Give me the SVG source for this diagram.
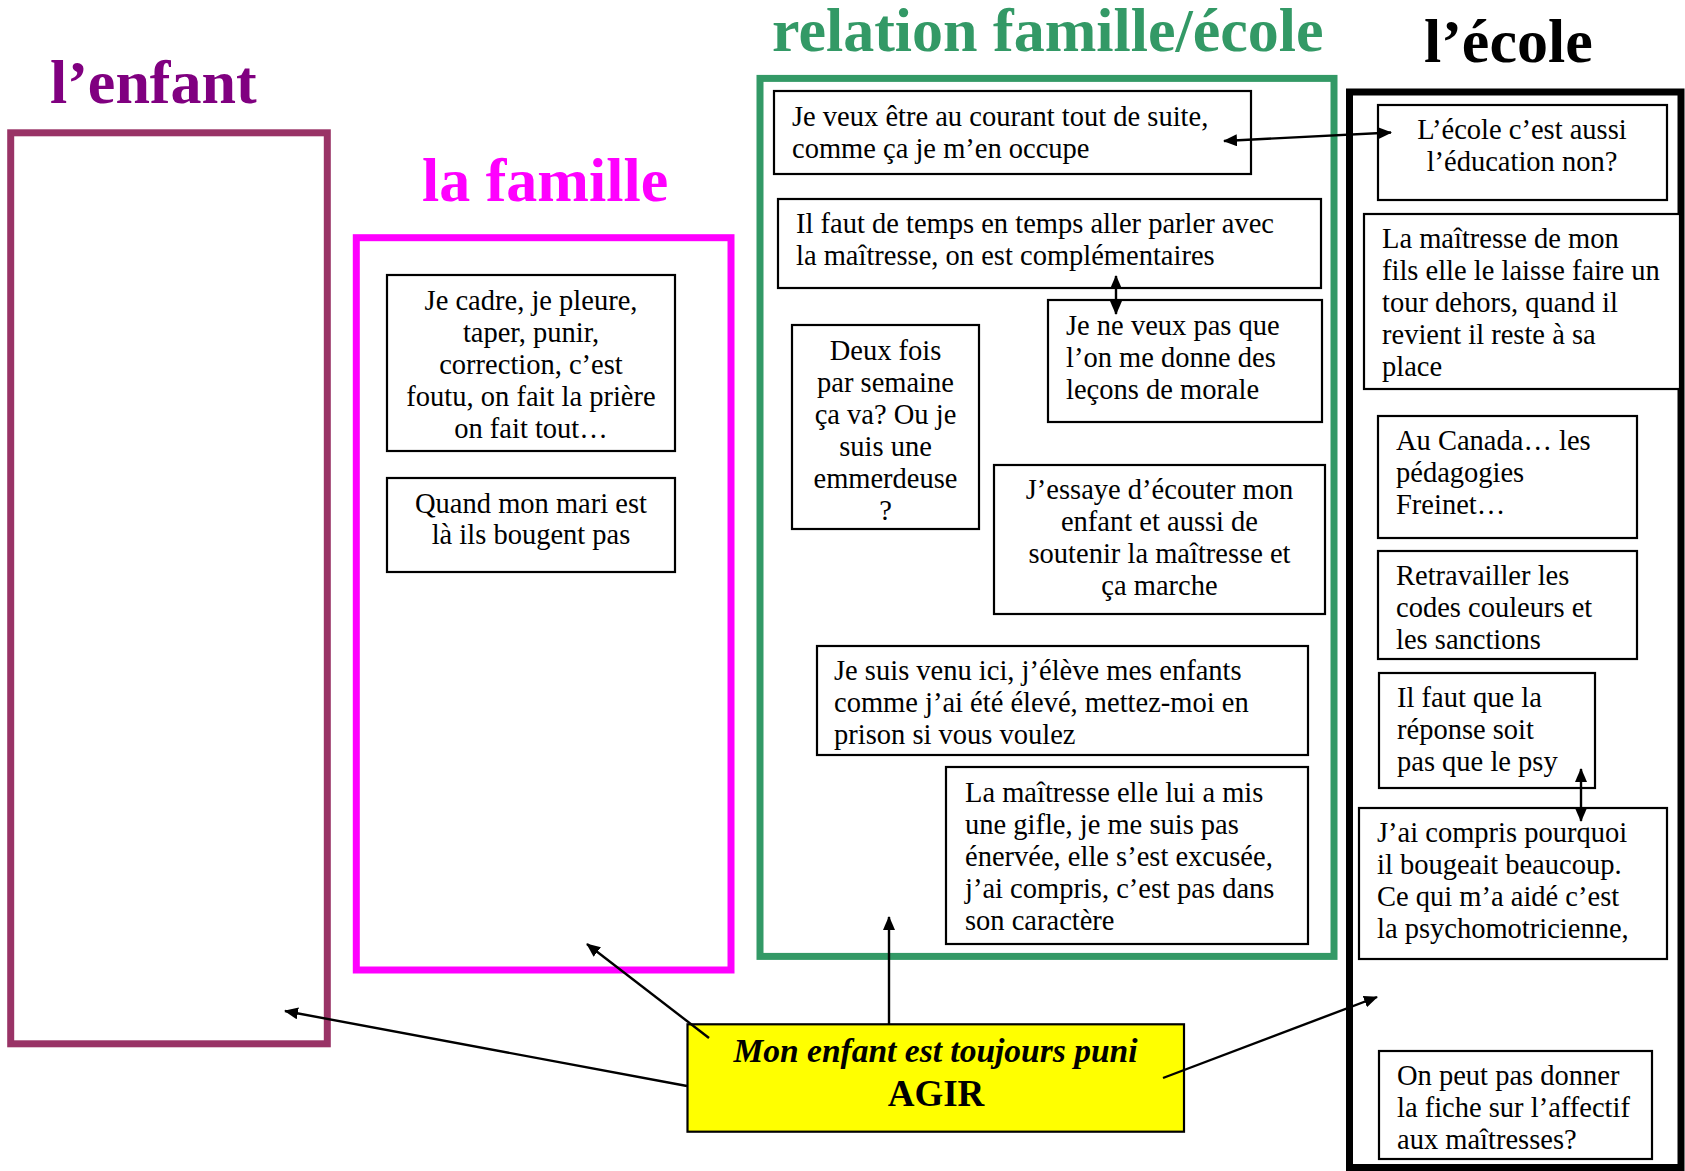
<svg xmlns="http://www.w3.org/2000/svg" width="1685" height="1171" viewBox="0 0 1685 1171">
<defs>
<style>
.title{font-family:"Liberation Serif","Times New Roman",serif;font-weight:bold;font-size:62px}
.t{font-family:"Liberation Serif","Times New Roman",serif;font-size:28.5px;fill:#000}
.c{text-anchor:middle}
.box{fill:#fff;stroke:#000;stroke-width:2.2}
.cont{fill:none;stroke-width:7}
.conn{fill:none;stroke:#000;stroke-width:2.4}
</style>
<marker id="ah" viewBox="0 0 14 12" refX="13" refY="6" markerWidth="14" markerHeight="12" markerUnits="userSpaceOnUse" orient="auto-start-reverse">
<path d="M0,0 L14,6 L0,12 Z" fill="#000"/>
</marker>
</defs>
<rect width="1685" height="1171" fill="#fff"/>

<g id="titles">
<text class="title" x="50" y="103" fill="#800080">l’enfant</text>
<text class="title" x="422" y="201" fill="#FF00FF">la famille</text>
<text class="title" x="772" y="51" fill="#339966">relation famille/école</text>
<text class="title" x="1424" y="62" fill="#000">l’école</text>
</g>

<g id="enfant">
<rect class="cont" x="10.7" y="132.8" width="316.6" height="911" stroke="#993366"/>
</g>

<g id="famille">
<rect class="cont" x="356.3" y="237.7" width="374.7" height="732.3" stroke="#FF00FF"/>
</g>

<g id="relation">
<rect class="cont" x="760" y="78.4" width="574" height="878" stroke="#339966"/>
</g>

<g id="ecole">
<rect class="cont" x="1349.5" y="92" width="331.5" height="1075.5" stroke="#000"/>
</g>

<g id="f1">
<rect class="box" x="387" y="275" width="288" height="176"/>
<text class="t c"><tspan x="531" y="310">Je cadre, je pleure,</tspan><tspan x="531" y="342">taper, punir,</tspan><tspan x="531" y="374">correction, c’est</tspan><tspan x="531" y="406">foutu, on fait la prière</tspan><tspan x="531" y="438">on fait tout…</tspan></text>
</g>

<g id="f2">
<rect class="box" x="387" y="478" width="288" height="94"/>
<text class="t c"><tspan x="531" y="513">Quand mon mari est</tspan><tspan x="531" y="544">là ils bougent pas</tspan></text>
</g>

<g id="g1">
<rect class="box" x="774" y="91" width="477" height="83"/>
<text class="t"><tspan x="792" y="126">Je veux être au courant tout de suite,</tspan><tspan x="792" y="158">comme ça je m’en occupe</tspan></text>
</g>

<g id="g2">
<rect class="box" x="778" y="199" width="543" height="89"/>
<text class="t"><tspan x="796" y="233">Il faut de temps en temps aller parler avec</tspan><tspan x="796" y="265">la maîtresse, on est complémentaires</tspan></text>
</g>

<g id="g3">
<rect class="box" x="792" y="325" width="187" height="204"/>
<text class="t c"><tspan x="885.5" y="360">Deux fois</tspan><tspan x="885.5" y="392">par semaine</tspan><tspan x="885.5" y="424">ça va? Ou je</tspan><tspan x="885.5" y="456">suis une</tspan><tspan x="885.5" y="488">emmerdeuse</tspan><tspan x="885.5" y="520">?</tspan></text>
</g>

<g id="g4">
<rect class="box" x="1048" y="300" width="274" height="122"/>
<text class="t"><tspan x="1066" y="335">Je ne veux pas que</tspan><tspan x="1066" y="367">l’on me donne des</tspan><tspan x="1066" y="399">leçons de morale</tspan></text>
</g>

<g id="g5">
<rect class="box" x="994" y="465" width="331" height="149"/>
<text class="t c"><tspan x="1159.5" y="499">J’essaye d’écouter mon</tspan><tspan x="1159.5" y="531">enfant et aussi de</tspan><tspan x="1159.5" y="563">soutenir la maîtresse et</tspan><tspan x="1159.5" y="595">ça marche</tspan></text>
</g>

<g id="g6">
<rect class="box" x="817" y="646" width="491" height="109"/>
<text class="t"><tspan x="834" y="680">Je suis venu ici, j’élève mes enfants</tspan><tspan x="834" y="712">comme j’ai été élevé, mettez-moi en</tspan><tspan x="834" y="744">prison si vous voulez</tspan></text>
</g>

<g id="g7">
<rect class="box" x="946" y="767" width="362" height="177"/>
<text class="t"><tspan x="965" y="802">La maîtresse elle lui a mis</tspan><tspan x="965" y="834">une gifle, je me suis pas</tspan><tspan x="965" y="866">énervée, elle s’est excusée,</tspan><tspan x="965" y="898">j’ai compris, c’est pas dans</tspan><tspan x="965" y="930">son caractère</tspan></text>
</g>

<g id="e1">
<rect class="box" x="1378" y="105" width="289" height="95"/>
<text class="t c"><tspan x="1522" y="139">L’école c’est aussi</tspan><tspan x="1522" y="171">l’éducation non?</tspan></text>
</g>

<g id="e2">
<rect class="box" x="1364" y="214" width="316" height="175"/>
<text class="t"><tspan x="1382" y="248">La maîtresse de mon</tspan><tspan x="1382" y="280">fils elle le laisse faire un</tspan><tspan x="1382" y="312">tour dehors, quand il</tspan><tspan x="1382" y="344">revient il reste à sa</tspan><tspan x="1382" y="376">place</tspan></text>
</g>

<g id="e3">
<rect class="box" x="1378" y="416" width="259" height="122"/>
<text class="t"><tspan x="1396" y="450">Au Canada… les</tspan><tspan x="1396" y="482">pédagogies</tspan><tspan x="1396" y="514">Freinet…</tspan></text>
</g>

<g id="e4">
<rect class="box" x="1378" y="551" width="259" height="108"/>
<text class="t"><tspan x="1396" y="585">Retravailler les</tspan><tspan x="1396" y="617">codes couleurs et</tspan><tspan x="1396" y="649">les sanctions</tspan></text>
</g>

<g id="e5">
<rect class="box" x="1379" y="673" width="216" height="115"/>
<text class="t"><tspan x="1397" y="707">Il faut que la</tspan><tspan x="1397" y="739">réponse soit</tspan><tspan x="1397" y="771">pas que le psy</tspan></text>
</g>

<g id="e6">
<rect class="box" x="1359" y="808" width="308" height="151"/>
<text class="t"><tspan x="1377" y="842">J’ai compris pourquoi</tspan><tspan x="1377" y="874">il bougeait beaucoup.</tspan><tspan x="1377" y="906">Ce qui m’a aidé c’est</tspan><tspan x="1377" y="938">la psychomotricienne,</tspan></text>
</g>

<g id="e7">
<rect class="box" x="1379" y="1051" width="273" height="108"/>
<text class="t"><tspan x="1397" y="1085">On peut pas donner</tspan><tspan x="1397" y="1117">la fiche sur l’affectif</tspan><tspan x="1397" y="1149">aux maîtresses?</tspan></text>
</g>

<g id="agir">
<rect x="687.5" y="1024.3" width="496.5" height="107.4" fill="#FFFF00" stroke="#000" stroke-width="2.2"/>
<text x="935.5" y="1062" text-anchor="middle" font-family="Liberation Serif, Times New Roman, serif" font-weight="bold" font-style="italic" font-size="33.5px">Mon enfant est toujours puni</text>
<text x="936" y="1106" text-anchor="middle" font-family="Liberation Serif, Times New Roman, serif" font-weight="bold" font-size="37px">AGIR</text>
</g>

<g id="connectors">
<path class="conn" d="M687,1086 L285,1011" marker-end="url(#ah)"/>
<path class="conn" d="M709,1038 L587,944" marker-end="url(#ah)"/>
<path class="conn" d="M889,1024 L889,917" marker-end="url(#ah)"/>
<path class="conn" d="M1163,1078 L1377,997" marker-end="url(#ah)"/>
<path class="conn" d="M1224,141 L1391,132.5" marker-start="url(#ah)" marker-end="url(#ah)"/>
<path class="conn" d="M1116,276 L1116,314" marker-start="url(#ah)" marker-end="url(#ah)"/>
<path class="conn" d="M1581,769 L1581,821" marker-start="url(#ah)" marker-end="url(#ah)"/>
</g>
</svg>
